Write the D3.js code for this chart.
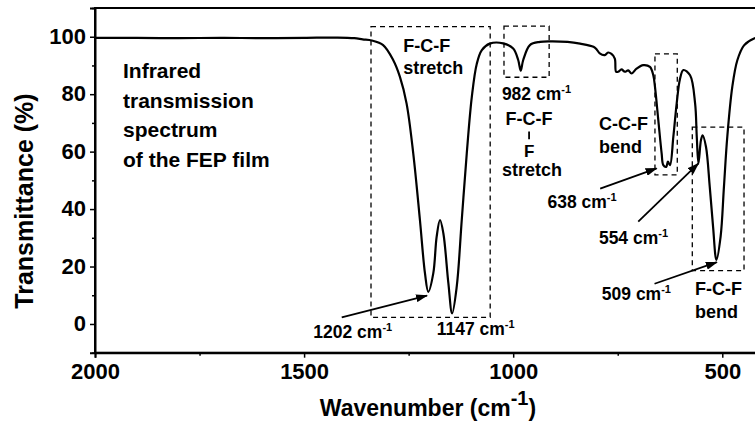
<!DOCTYPE html>
<html lang="en">
<head>
  <meta charset="UTF-8">
  <title>FEP infrared spectrum</title>
  <script src="https://d3js.org/d3.v7.min.js"></script>
  <style>
    html, body { margin: 0; padding: 0; background: #fff; }
    svg { display: block; font-family: "Liberation Sans", Arial, sans-serif; font-weight: bold; }
    .curve { fill: none; stroke: #000; stroke-width: 2.2; }
    .box { fill: none; stroke: #000; stroke-width: 1.3; stroke-dasharray: 5 4; }
    .arrow { stroke: #000; stroke-width: 1.8; }
  </style>
</head>
<body>
  <svg width="755" height="425"></svg>
  <script>
    // spectrum: wavenumber (cm-1) and transmittance (%)
    const wavenumber = [2000, 1900, 1800, 1700, 1600, 1500, 1420, 1380, 1360, 1338, 1311, 1287, 1271, 1255, 1239, 1223, 1211,
      1203, 1191, 1183, 1175, 1167, 1155, 1146, 1135, 1123, 1111, 1099, 1087, 1075, 1056, 1024, 1000, 988, 982, 976, 960, 936,
      912, 870, 840, 808, 800, 793, 781, 773, 765, 757, 754, 749, 741, 733, 725, 717, 705, 689, 673, 665, 661, 653, 645, 641,
      634, 630, 625, 617, 609, 601, 593, 577, 565, 561, 557, 551, 547, 539, 530, 522, 514, 504, 496, 488, 476, 464, 448, 424, 400];
    const transmittance = [99.6, 99.6, 99.5, 99.6, 99.5, 99.6, 99.7, 99.5, 99.1, 98.7, 97.1, 91.9, 86.1, 76.8, 59.4, 36.2, 17.7,
      11.2, 17.7, 30.4, 36.2, 31.6, 14.2, 3.7, 13.0, 36.2, 59.4, 79.0, 90.6, 95.3, 97.6, 97.7, 95.9, 91.9, 88.2, 91.9, 97.1, 98.2,
      98.4, 98.2, 97.6, 96.5, 95.5, 94.2, 93.6, 94.5, 94.0, 92.4, 87.8, 87.8, 88.6, 87.8, 88.3, 87.2, 88.9, 90.1, 89.5, 86.6, 82.6, 71.0, 59.4, 55.3,
      54.7, 56.5, 55.3, 65.2, 76.8, 85.4, 88.4, 86.6, 76.8, 65.2, 55.9, 64.0, 65.7, 61.7, 47.8, 33.8, 22.3, 30.4, 47.8, 65.2, 82.6, 91.8, 97.0, 99.4, 100];

    const xTicks = [2000, 1500, 1000, 500];
    const xMinor = [1750, 1250, 750];
    const yTicks = [0, 20, 40, 60, 80, 100];
    const yMinor = [-10, 10, 30, 50, 70, 90, 110];

    // dashed boxes [wn left, wn right, T top, T bottom]
    const boxes = [
      [1340, 1055, 103.5, 2.3],
      [1022, 914, 103.7, 85.9],
      [661, 607.6, 94, 51.9],
      [571.7, 448, 68.5, 18.6]
    ];
    // arrows [wn from, T from, wn to, T to]
    const arrows = [
      [1410, 2.3, 1206, 9.9],
      [792, 47.1, 657, 54.2],
      [701, 35.6, 557, 55.9],
      [662, 14.0, 513, 21.5]
    ];
    // labels with a cm-1 unit [text, wn, T]
    const peakLabels = [
      ["1202", 1478, -4.9],
      ["1147", 1183, -3.7],
      ["982", 1027, 78],
      ["638", 918, 40.3],
      ["554", 795, 28],
      ["509", 788, 8.3]
    ];
    // plain multi-line labels [lines, wn, T of first baseline]
    const notes = [
      [["F-C-F", "stretch"], 1263, 94.8],
      [["C-C-F", "bend"], 795, 67.5],
      [["F-C-F", "bend"], 565, 10.0]
    ];

    const svg = d3.select("svg");
    const x = d3.scaleLinear().domain([2000, 400]).range([95, 764.1]);
    const y = d3.scaleLinear().domain([-10, 110]).range([352.7, 8]);

    const data = wavenumber.map((w, i) => ({ w, t: transmittance[i] }));

    svg.append("defs").append("marker")
      .attr("id", "head").attr("markerUnits", "userSpaceOnUse")
      .attr("markerWidth", 12).attr("markerHeight", 8)
      .attr("refX", 11).attr("refY", 4).attr("orient", "auto")
      .append("path").attr("d", "M0,0L12,4L0,8Z").attr("fill", "#000");

    // frame
    svg.append("rect")
      .attr("x", x(2000)).attr("y", y(110))
      .attr("width", x(400) - x(2000)).attr("height", y(-10) - y(110))
      .attr("fill", "none").attr("stroke", "#000").attr("stroke-width", 2);

    // axes
    const xAxis = svg.append("g").attr("transform", `translate(0,${y(-10)})`)
      .call(d3.axisBottom(x).tickValues(xTicks).tickSize(5).tickFormat(d3.format("d")));
    svg.append("g").attr("transform", `translate(0,${y(-10)})`)
      .call(d3.axisBottom(x).tickValues(xMinor).tickSize(3).tickFormat(""))
      .call(g => g.select(".domain").remove());
    const yAxis = svg.append("g").attr("transform", `translate(${x(2000)},0)`)
      .call(d3.axisLeft(y).tickValues(yTicks).tickSize(5));
    svg.append("g").attr("transform", `translate(${x(2000)},0)`)
      .call(d3.axisLeft(y).tickValues(yMinor).tickSize(3).tickFormat(""))
      .call(g => g.select(".domain").remove());
    svg.selectAll(".tick line").attr("stroke-width", 1.5);
    svg.selectAll(".domain").attr("stroke-width", 2);
    xAxis.selectAll("text").attr("font-size", 22).attr("font-family", null).attr("font-weight", "bold")
      .attr("y", 9).attr("dy", "0.8em");
    yAxis.selectAll("text").attr("font-size", 22).attr("font-family", null).attr("font-weight", "bold")
      .attr("x", -9).attr("dy", "0.3em");

    // axis titles
    const xt = svg.append("text").attr("x", 428).attr("y", 416).attr("text-anchor", "middle").attr("font-size", 23);
    xt.append("tspan").text("Wavenumber (cm");
    xt.append("tspan").attr("dy", -11).attr("font-size", 20).text("-1");
    xt.append("tspan").attr("dy", 11).text(")");
    svg.append("text").attr("transform", "translate(33,201) rotate(-90)")
      .attr("text-anchor", "middle").attr("font-size", 25).text("Transmittance (%)");

    // spectrum
    svg.append("path").datum(data).attr("class", "curve")
      .attr("d", d3.line().x(d => x(d.w)).y(d => y(d.t)).curve(d3.curveCatmullRom.alpha(0.5)));

    // dashed boxes
    svg.selectAll(".box").data(boxes).join("rect").attr("class", "box")
      .attr("x", d => x(d[0])).attr("y", d => y(d[2]))
      .attr("width", d => x(d[1]) - x(d[0])).attr("height", d => y(d[3]) - y(d[2]));

    // arrows
    svg.selectAll(".arrow").data(arrows).join("line").attr("class", "arrow")
      .attr("x1", d => x(d[0])).attr("y1", d => y(d[1]))
      .attr("x2", d => x(d[2])).attr("y2", d => y(d[3]))
      .attr("marker-end", "url(#head)");

    // peak labels
    peakLabels.forEach(([txt, w, t]) => {
      const el = svg.append("text").attr("x", x(w)).attr("y", y(t)).attr("font-size", 17.5);
      el.append("tspan").text(txt + " cm");
      el.append("tspan").attr("dy", -7).attr("font-size", 11).text("-1");
    });

    // notes
    notes.forEach(([lines, w, t]) => {
      const el = svg.append("text").attr("x", x(w)).attr("y", y(t)).attr("font-size", 18);
      lines.forEach((l, i) => el.append("tspan").attr("x", x(w)).attr("dy", i ? 22.5 : 0).text(l));
    });

    // F-C(-F)-F stretch group under the 982 label
    const cx = x(962);
    svg.append("text").attr("x", cx).attr("y", y(69.3)).attr("font-size", 18).attr("text-anchor", "middle").text("F-C-F");
    svg.append("line").attr("x1", cx).attr("x2", cx).attr("y1", y(67)).attr("y2", y(64.3))
      .attr("stroke", "#000").attr("stroke-width", 1.8);
    svg.append("text").attr("x", cx).attr("y", y(58.3)).attr("font-size", 17).attr("text-anchor", "middle").text("F");
    svg.append("text").attr("x", cx + 3).attr("y", y(51.6)).attr("font-size", 18).attr("text-anchor", "middle").text("stretch");

    // title block
    const title = ["Infrared", "transmission", "spectrum", "of the FEP film"];
    const tt = svg.append("text").attr("x", x(1933)).attr("y", y(85.6)).attr("font-size", 21);
    title.forEach((l, i) => tt.append("tspan").attr("x", x(1933)).attr("dy", i ? 29.5 : 0).text(l));
  </script>
</body>
</html>
